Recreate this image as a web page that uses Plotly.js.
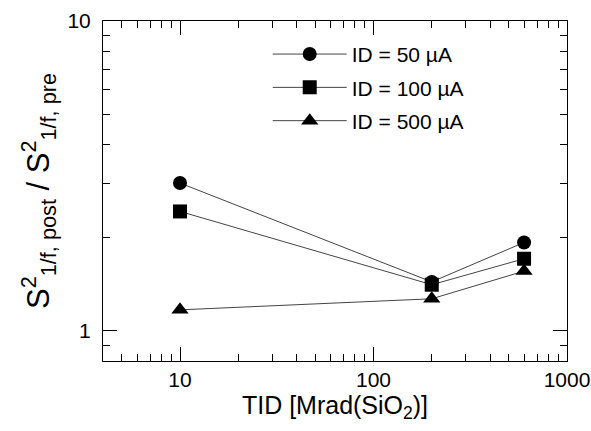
<!DOCTYPE html>
<html><head><meta charset="utf-8">
<script src="https://cdn.plot.ly/plotly-3.0.1.min.js"></script>
<style>html,body{margin:0;padding:0;background:#fff}#c{width:591px;height:431px}</style>
</head><body><div id="c"></div>
<script>
const tid = [10, 200, 600];
const id50 = [3.0, 1.44, 1.93];
const id100 = [2.43, 1.41, 1.71];
const id500 = [1.17, 1.27, 1.56];
const seriesNames = ['ID = 50 µA', 'ID = 100 µA', 'ID = 500 µA'];
const xTickVals = [10, 100, 1000];
const xTickText = ['10', '100', '1000'];
const yTickVals = [1, 10];
const yTickText = ['1', '10'];
const xMinor = [5,6,7,8,9,20,30,40,50,60,70,80,90,200,300,400,500,600,700,800,900];
const yMinor = [0.9,2,3,4,5,6,7,8,9];

const symbols = ['circle', 'square', 'triangle-up'];
const ys = [id50, id100, id500];
const traces = ys.map((y, i) => ({
  x: tid, y: y, name: seriesNames[i], type: 'scatter', mode: 'lines+markers',
  legendgroup: 'g' + i,
  line: {color: '#444', width: 1},
  marker: {symbol: symbols[i], size: i === 2 ? 15 : 14, color: '#000', line: {width: 0}}
}));

const font = 'Liberation Sans, Arial, sans-serif';
const layout = {
  width: 591, height: 431,
  margin: {l: 103, r: 24, t: 21, b: 70},
  paper_bgcolor: '#fff', plot_bgcolor: '#fff',
  font: {family: font, color: '#000', size: 20},
  showlegend: true,
  legend: {x: 0.355, y: 0.962, xanchor: 'left', yanchor: 'top', bgcolor: 'rgba(0,0,0,0)',
           itemwidth: 74, traceorder: 'grouped', tracegroupgap: 3,
           font: {family: font, size: 21, color: '#000'}},
  xaxis: {
    type: 'log', range: [Math.log10(4), 3],
    tickmode: 'array', tickvals: xTickVals, ticktext: xTickText,
    ticks: 'inside', ticklen: 14, tickwidth: 1, tickcolor: '#000',
    minor: {tickmode: 'array', tickvals: xMinor, ticks: 'inside', ticklen: 7, tickcolor: '#000', tickwidth: 1, showgrid: false},
    showline: true, linecolor: '#000', linewidth: 1, mirror: 'allticks',
    showgrid: false, zeroline: false,
    tickfont: {size: 21, family: font},
    title: {text: 'TID [Mrad(SiO<sub>2</sub>)]', font: {size: 25, family: font}, standoff: 5}
  },
  yaxis: {
    type: 'log', range: [Math.log10(0.8), 1],
    tickmode: 'array', tickvals: yTickVals, ticktext: yTickText,
    ticks: 'inside', ticklen: 14, tickwidth: 1, tickcolor: '#000',
    ticklabelstandoff: 7,
    minor: {tickmode: 'array', tickvals: yMinor, ticks: 'inside', ticklen: 7, tickcolor: '#000', tickwidth: 1, showgrid: false},
    showline: true, linecolor: '#000', linewidth: 1, mirror: 'allticks',
    showgrid: false, zeroline: false,
    tickfont: {size: 21, family: font},
    title: {text: 'S<sup>2</sup><sub>1/f, post</sub> / S<sup>2</sup><sub>1/f, pre</sub>', font: {size: 31, family: font}, standoff: 8}
  }
};
Plotly.newPlot('c', traces, layout, {displayModeBar: false, staticPlot: true});
</script></body></html>
